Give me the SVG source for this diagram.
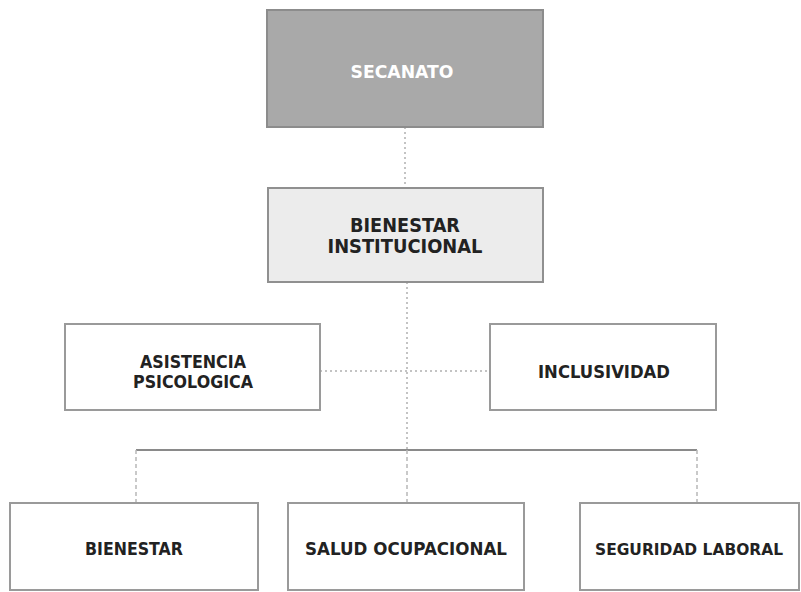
<svg xmlns="http://www.w3.org/2000/svg" width="801" height="592" viewBox="0 0 801 592">
<style>
.box{fill:#ffffff;stroke:#9a9a9a;stroke-width:2}
.t{font-family:"DejaVu Sans","Liberation Sans",sans-serif;font-size:17px;font-weight:bold;fill:#222222;text-anchor:middle}
.big{font-size:19px}
.sm{font-size:16px}
.dot{stroke:#b0b0b0;stroke-width:1.5;stroke-dasharray:2 3;fill:none}
.bus{stroke:#8a8a8a;stroke-width:2;fill:none}
.drop{stroke:#b8b8b8;stroke-width:1.5;stroke-dasharray:4 3;fill:none}
</style>
<rect width="801" height="592" fill="#ffffff"/>
<g id="connectors">
<line class="dot" x1="405" y1="127" x2="405" y2="188"/>
<line class="dot" x1="407" y1="282" x2="407" y2="450"/>
<line class="dot" x1="320" y1="371" x2="490" y2="371"/>
<line class="bus" x1="136" y1="450" x2="697" y2="450"/>
<line class="drop" x1="136" y1="450" x2="136" y2="503"/>
<line class="drop" x1="407" y1="450" x2="407" y2="503"/>
<line class="drop" x1="697" y1="450" x2="697" y2="503"/>
</g>
<g id="secanato">
<rect x="267" y="10" width="276" height="117" fill="#a9a9a9" stroke="#8c8c8c" stroke-width="2"/>
<text class="t" x="402" y="78" style="fill:#ffffff" textLength="103" lengthAdjust="spacingAndGlyphs">SECANATO</text>
</g>
<g id="bienestar-institucional">
<rect x="268" y="188" width="275" height="94" fill="#ececec" stroke="#909090" stroke-width="2"/>
<text class="t big" x="405" y="232" textLength="110" lengthAdjust="spacingAndGlyphs">BIENESTAR</text>
<text class="t big" x="405" y="253" textLength="155" lengthAdjust="spacingAndGlyphs">INSTITUCIONAL</text>
</g>
<g id="asistencia-psicologica">
<rect class="box" x="65" y="324" width="255" height="86"/>
<text class="t" x="193" y="368" textLength="106" lengthAdjust="spacingAndGlyphs">ASISTENCIA</text>
<text class="t" x="193" y="388" textLength="120" lengthAdjust="spacingAndGlyphs">PSICOLOGICA</text>
</g>
<g id="inclusividad">
<rect class="box" x="490" y="324" width="226" height="86"/>
<text class="t" x="604" y="378" textLength="132" lengthAdjust="spacingAndGlyphs">INCLUSIVIDAD</text>
</g>
<g id="bienestar">
<rect class="box" x="10" y="503" width="248" height="87"/>
<text class="t" x="134" y="555" textLength="98" lengthAdjust="spacingAndGlyphs">BIENESTAR</text>
</g>
<g id="salud-ocupacional">
<rect class="box" x="288" y="503" width="236" height="87"/>
<text class="t" x="406" y="555" textLength="202" lengthAdjust="spacingAndGlyphs">SALUD OCUPACIONAL</text>
</g>
<g id="seguridad-laboral">
<rect class="box" x="580" y="503" width="219" height="87"/>
<text class="t sm" x="689" y="555" textLength="188" lengthAdjust="spacingAndGlyphs">SEGURIDAD LABORAL</text>
</g>
</svg>
